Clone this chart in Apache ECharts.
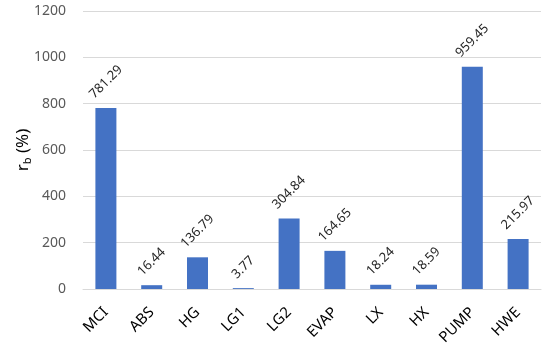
<!DOCTYPE html>
<html><head><meta charset="utf-8">
<script src="https://cdn.jsdelivr.net/npm/echarts@6/dist/echarts.min.js"></script>
<style>html,body{margin:0;padding:0;background:#fff}#c{width:550px;height:355px}</style>
</head><body><div id="c"></div>
<script>
const categories = ["MCI","ABS","HG","LG1","LG2","EVAP","LX","HX","PUMP","HWE"];
const values = [781.29,16.44,136.79,3.77,304.84,164.65,18.24,18.59,959.45,215.97];
const yTicks = {min:0, max:1200, interval:200};
const font = "'Noto Sans', 'Liberation Sans', sans-serif";
const labelSize = 13;

const ctx = document.createElement('canvas').getContext('2d');
ctx.font = labelSize + 'px ' + font;
function labelDistance(txt){
  const L = ctx.measureText(txt).width;
  return 7 + (L + labelSize) / 2.83;
}
const barData = values.map(v => {
  const t = v.toFixed(2);
  return {value:v, label:{distance:labelDistance(t)}};
});

const chart = echarts.init(document.getElementById('c'), null, {renderer:'canvas'});
chart.setOption({
  animation:false,
  grid:{left:83,right:9,top:11,bottom:66,containLabel:false},
  xAxis:{type:'category',data:categories,
    axisLine:{show:true,lineStyle:{color:'#d9d9d9'}},
    axisTick:{show:false},
    axisLabel:{rotate:45,color:'#000',fontSize:15,fontFamily:font,margin:21,interval:0}},
  yAxis:{type:'value',min:yTicks.min,max:yTicks.max,interval:yTicks.interval,
    name:'{a|r}{b|b}{a| (%)}',nameLocation:'middle',nameGap:50,nameRotate:90,nameMoveOverlap:false,
    nameTextStyle:{rich:{a:{fontSize:17,color:'#000',fontFamily:font},b:{fontSize:11,color:'#000',fontFamily:font,verticalAlign:'bottom',padding:[9,0,0,0]}}},
    axisLine:{show:false},axisTick:{show:false},
    splitLine:{lineStyle:{color:'#d9d9d9'}},
    axisLabel:{color:'#595959',fontSize:14,fontFamily:font,margin:17,formatter:v=>String(v)}},
  series:[{type:'bar',data:barData,barWidth:21,
    itemStyle:{color:'#4472c4'},
    label:{show:true,position:'top',rotate:45,align:'center',verticalAlign:'middle',
      color:'#262626',fontSize:labelSize,fontFamily:font,
      formatter:p=>p.value.toFixed(2)}}]
});
</script></body></html>
